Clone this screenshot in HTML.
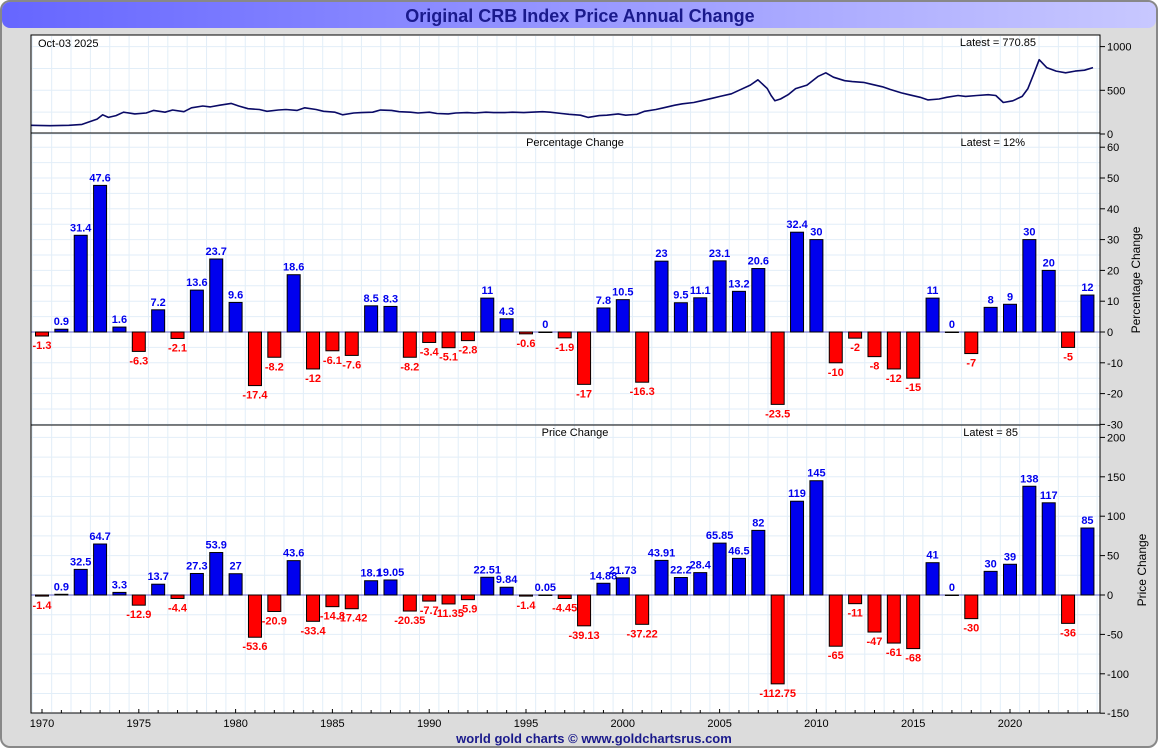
<!DOCTYPE html>
<html><head><meta charset="utf-8">
<style>
body{margin:0;width:1160px;height:750px;background:#fff;font-family:"Liberation Sans",sans-serif;overflow:hidden}
</style></head><body>
<svg id="chart" width="1160" height="750" xmlns="http://www.w3.org/2000/svg" font-family="Liberation Sans, sans-serif">
<defs>
<linearGradient id="tg" x1="0" x2="1"><stop offset="0" stop-color="#6666ff"/><stop offset="1" stop-color="#c8c8ff"/></linearGradient>
</defs>
<rect x="1" y="1" width="1156" height="746" rx="9" fill="#dcdcdc" stroke="#888" stroke-width="2"/>
<rect x="2" y="2" width="1154" height="26" rx="8" fill="url(#tg)"/>
<text x="580" y="22" text-anchor="middle" font-size="18" font-weight="bold" fill="#1a1a8c">Original CRB Index Price Annual Change</text>
<rect x="31" y="35" width="1069" height="678" fill="#fff" stroke="#000"/>
<g id="grid"></g>
<g id="marks"></g>
<line x1="31" y1="133" x2="1100" y2="133" stroke="#000"/>
<line x1="31" y1="425" x2="1100" y2="425" stroke="#000"/>
<rect x="31" y="35" width="1069" height="678" fill="none" stroke="#000"/>
<text x="38" y="47" font-size="11">Oct-03  2025</text>
<text x="1036" y="46" font-size="11" text-anchor="end">Latest = 770.85</text>
<text x="575" y="146" font-size="11" text-anchor="middle">Percentage Change</text>
<text x="1025" y="146" font-size="11" text-anchor="end">Latest = 12%</text>
<text x="575" y="436" font-size="11" text-anchor="middle">Price Change</text>
<text x="1018" y="436" font-size="11" text-anchor="end">Latest = 85</text>
<text transform="translate(1140,280) rotate(-90)" font-size="12" text-anchor="middle">Percentage Change</text>
<text transform="translate(1146,570) rotate(-90)" font-size="12" text-anchor="middle">Price Change</text>
<text x="594" y="743" font-size="13" font-weight="bold" fill="#1a1a8c" text-anchor="middle">world gold charts © www.goldchartsrus.com</text>
</svg>
<script>
const years=[];for(let y=1970;y<=2024;y++)years.push(y);
const pctValues=[-1.3,0.9,31.4,47.6,1.6,-6.3,7.2,-2.1,13.6,23.7,9.6,-17.4,-8.2,18.6,-12,-6.1,-7.6,8.5,8.3,-8.2,-3.4,-5.1,-2.8,11,4.3,-0.6,0,-1.9,-17,7.8,10.5,-16.3,23,9.5,11.1,23.1,13.2,20.6,-23.5,32.4,30,-10,-2,-8,-12,-15,11,0,-7,8,9,30,20,-5,12];
const priceValues=[-1.4,0.9,32.5,64.7,3.3,-12.9,13.7,-4.4,27.3,53.9,27,-53.6,-20.9,43.6,-33.4,-14.8,-17.42,18.1,19.05,-20.35,-7.7,-11.35,-5.9,22.51,9.84,-1.4,0.05,-4.45,-39.13,14.88,21.73,-37.22,43.91,22.2,28.4,65.85,46.5,82,-112.75,119,145,-65,-11,-47,-61,-68,41,0,-30,30,39,138,117,-36,85];
const indexDates=[1969.5,1970.5,1971.5,1972.2,1972.6,1973.0,1973.3,1973.6,1974.0,1974.4,1975,1975.6,1976,1976.6,1977,1977.6,1978,1978.6,1979,1979.5,1980.1,1980.5,1981,1981.6,1982,1982.6,1983,1983.6,1984,1984.6,1985,1985.6,1986,1986.6,1987,1987.6,1988,1988.6,1989,1989.6,1990,1990.6,1991,1991.6,1992,1992.6,1993,1993.6,1994,1994.6,1995,1995.6,1996,1996.6,1997,1997.6,1998,1998.6,1999,1999.6,2000,2000.6,2001,2001.6,2002,2002.6,2003,2003.6,2004,2004.6,2005,2005.6,2006,2006.6,2007,2007.6,2008.0,2008.5,2008.7,2008.9,2009.2,2009.6,2010,2010.6,2011.2,2011.6,2012,2012.6,2013,2013.6,2014,2014.6,2015,2015.6,2016,2016.6,2017,2017.6,2018,2018.6,2019,2019.6,2020.2,2020.6,2021,2021.5,2022.0,2022.3,2022.6,2022.9,2023.3,2023.8,2024.3,2024.8,2025.3,2025.75];
const indexValues=[100,95,100,110,140,170,220,190,210,250,230,240,270,250,275,255,300,320,310,330,350,320,290,280,260,275,280,270,300,280,260,250,220,240,245,250,275,270,255,250,240,250,235,230,240,245,240,250,245,245,250,245,250,255,250,235,225,215,190,210,215,230,215,225,260,280,300,330,345,360,380,410,430,460,500,560,620,520,440,380,400,450,520,560,660,700,650,610,600,590,570,540,510,470,450,420,390,400,420,440,430,440,450,440,360,380,430,520,680,850,760,720,700,720,730,760,770,780];
const pctTicks=[60,50,40,30,20,10,0,-10,-20,-30];
const priceTicks=[200,150,100,50,0,-50,-100,-150];
const indexTicks=[1000,500,0];
const yearLabels=[1970,1975,1980,1985,1990,1995,2000,2005,2010,2015,2020];
const NS='http://www.w3.org/2000/svg';
const X0=31,X1=1100;
const xYear=y=>42+(y-1970)*19.36;
const xTime=t=>31+(t-1969.5)*18.88;
const yIdx=v=>134-v*0.0874;
const yPct=v=>332-v*3.08;
const yPrice=v=>595-v*0.788;
const grid=document.getElementById('grid'),marks=document.getElementById('marks');
function el(t,a,p){const e=document.createElementNS(NS,t);for(const k in a)e.setAttribute(k,a[k]);(p||marks).appendChild(e);return e;}
years.concat([2025]).forEach(y=>{const x=xYear(y)-9.7;if(x>X0&&x<X1){const l=el('line',{x1:x,y1:36,x2:x,y2:712,stroke:'#e2eef8'},grid);

}});
function hgrid(vals,f,step){vals.forEach(v=>{[v,v+step/2].forEach(w=>{const y=f(w);if(w<=vals[0]){const l=el('line',{x1:X0,y1:y,x2:X1,y2:y,stroke:'#e2eef8'},grid);

}});});}
hgrid(indexTicks,yIdx,500);hgrid(pctTicks,yPct,10);hgrid(priceTicks,yPrice,50);
function axisTicks(vals,f,name){vals.forEach(v=>{const y=f(v);el('line',{x1:1100,y1:y,x2:1105,y2:y,stroke:'#000'});const t=el('text',{x:1107,y:y+4,'font-size':11});t.textContent=v;

});}
axisTicks(indexTicks,yIdx,'index');axisTicks(pctTicks,yPct,'pct');axisTicks(priceTicks,yPrice,'price');
let d='';indexDates.forEach((t,i)=>{d+=(i?'L':'M')+xTime(t).toFixed(1)+' '+yIdx(indexValues[i]).toFixed(1);});
const ln=el('path',{d:d,fill:'none',stroke:'#0a0a66','stroke-width':1.6,'stroke-linejoin':'round'});


el('line',{x1:X0,y1:yPct(0),x2:X1,y2:yPct(0),stroke:'#6666cc'});
el('line',{x1:X0,y1:yPrice(0),x2:X1,y2:yPrice(0),stroke:'#6666cc'});
function bars(vals,f,name){vals.forEach((v,i)=>{const x=xYear(years[i]);const y0=f(0),y1=f(v);const pos=v>=0;
const r=el('rect',{x:x-6.5,y:Math.min(y0,y1),width:13,height:Math.max(Math.abs(y1-y0),0.5),fill:pos?'#0000ee':'#ff0000',stroke:'#000','stroke-width':1});


const t=el('text',{x:x,y:pos?y1-4:y1+13,'font-size':11,'font-weight':'bold','text-anchor':'middle',fill:pos?'#0000ee':'#ff0000'});t.textContent=v;

});}
bars(pctValues,yPct,'pct');bars(priceValues,yPrice,'price');
years.forEach(y=>{const x=xYear(y);el('line',{x1:x,y1:713,x2:x,y2:(y%5==0?709:710),stroke:'#000'});});
yearLabels.forEach(y=>{const t=el('text',{x:xYear(y),y:727,'font-size':11,'text-anchor':'middle'});t.textContent=y;

});
</script>
</body></html>
